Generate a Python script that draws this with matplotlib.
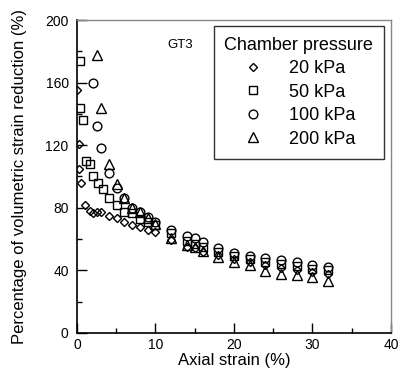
import matplotlib
matplotlib.use('Agg')
import matplotlib.pyplot as plt
from matplotlib.ticker import MultipleLocator

plt.rcParams['font.family'] = ['Liberation Sans', 'DejaVu Sans']

# data (axial strain %, volumetric strain reduction %)
x_20 = [0, 0.2, 0.25, 0.5, 1.0, 1.6, 2.1, 2.6, 3.1, 4.1, 5.1, 6.0, 7.0, 8.0, 9.0, 10.0,
        12, 14, 15, 16, 18, 20, 22, 24, 26, 28, 30, 32]
y_20 = [155, 121, 105, 96, 82, 78, 76.5, 77.5, 77, 75, 73.3, 71, 69, 68, 65.5, 64.3,
        59.5, 55, 54, 52, 50, 47.5, 45.5, 43.5, 41.5, 40.5, 39, 37.5]

x_50 = [0.4, 0.4, 0.8, 1.1, 1.7, 2.1, 2.7, 3.3, 4.1, 5.1, 6.0, 7.0, 8.0, 9.0, 10.0,
        12, 14, 15, 16, 18, 20, 22, 24, 26, 28, 30, 32]
y_50 = [174, 144, 136, 110, 108, 100.5, 95.6, 91.8, 86, 81.8, 77.5, 76.5, 72.6, 71, 69,
        64, 58.5, 57, 55, 52, 49, 47, 45.5, 44, 43, 41, 40]

x_100 = [2.1, 2.6, 3.1, 4.1, 5.1, 6.0, 7.0, 8.0, 9.0, 10.0,
         12, 14, 15, 16, 18, 20, 22, 24, 26, 28, 30, 32]
y_100 = [160, 132, 118, 102, 92.5, 86, 80, 77, 74, 71,
         66, 62, 60.5, 58, 54.5, 51, 49, 48, 46.6, 45.4, 43.5, 42.2]

x_200 = [2.5, 3.1, 4.1, 5.1, 6.0, 7.0, 8.0, 9.0, 10.0,
         12, 14, 15, 16, 18, 20, 22, 24, 26, 28, 30, 32]
y_200 = [177.6, 144, 108, 95, 86, 80, 77.5, 73.3, 69.6,
         61, 56, 55, 52.5, 48.6, 45.4, 43.5, 39.6, 37.7, 37, 35.8, 33.2]

fig = plt.figure(figsize=(4.04, 3.76), dpi=100)
ax = fig.add_axes([0.1906, 0.1144, 0.7772, 0.8324])

style = dict(linestyle='none', markerfacecolor='none', markeredgecolor='black', markeredgewidth=1.0)
ax.plot(x_20, y_20, marker='D', markersize=4.3, label='20 kPa', **style)
ax.plot(x_50, y_50, marker='s', markersize=6.0, label='50 kPa', **style)
ax.plot(x_100, y_100, marker='o', markersize=6.3, label='100 kPa', **style)
ax.plot(x_200, y_200, marker='^', markersize=7.0, label='200 kPa', **style)

ax.set_xlim(0, 40)
ax.set_ylim(0, 200)
ax.xaxis.set_major_locator(MultipleLocator(10))
ax.xaxis.set_minor_locator(MultipleLocator(5))
ax.yaxis.set_major_locator(MultipleLocator(40))
ax.yaxis.set_minor_locator(MultipleLocator(20))
ax.tick_params(which='major', direction='in', length=7, width=1, labelsize=10, top=False, right=False)
ax.tick_params(axis='y', which='major', pad=6)
ax.tick_params(which='minor', direction='in', length=3.6, width=1, top=False, right=False)
ax.spines['left'].set_linewidth(1.2)
ax.spines['bottom'].set_linewidth(1.2)
for s in ['top', 'right']:
    ax.spines[s].set_color('#888888')
    ax.spines[s].set_linewidth(1)

ax.set_xlabel('Axial strain (%)', fontsize=12, labelpad=1)
ax.set_ylabel('Percentage of volumetric strain reduction (%)', fontsize=12, labelpad=13)

ax.text(13.2, 184, 'GT3', fontsize=9.5, ha='center', va='center')

leg = ax.legend(title='Chamber pressure', fontsize=13, title_fontsize=13, loc='upper right',
                bbox_to_anchor=(0.978, 0.981), frameon=True, fancybox=False, edgecolor='black',
                borderpad=0.6, labelspacing=0.36, handletextpad=0.4, handlelength=3.2,
                borderaxespad=0, alignment='left')
leg.get_frame().set_linewidth(1)

fig.savefig('out.png', dpi=100)
